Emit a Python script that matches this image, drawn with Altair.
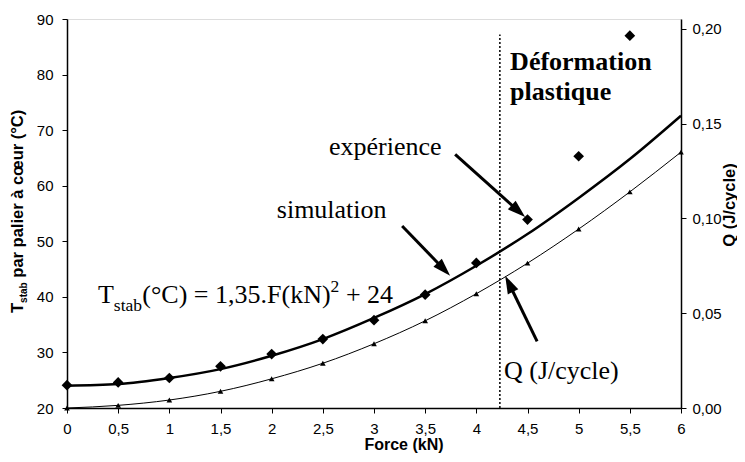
import math
import altair as alt
import pandas as pd

# ---------------- data ----------------
force = [0, 0.5, 1, 1.5, 2, 2.5, 3, 3.5, 4, 4.5, 5, 5.5, 6]
t_simulation = [24.0, 24.3, 25.4, 27.0, 29.4, 32.4, 36.2, 40.5, 45.6, 51.3, 57.8, 64.8, 72.6]
q_cycle = [0.000, 0.0014, 0.0042, 0.0088, 0.0154, 0.0236, 0.0339, 0.0460, 0.0603, 0.0764, 0.0944, 0.1140, 0.1350]
force_exp = [0, 0.5, 1, 1.5, 2, 2.5, 3, 3.5, 4, 4.5, 5, 5.5]
t_experience = [24.1, 24.6, 25.4, 27.5, 29.7, 32.4, 35.8, 40.4, 46.1, 53.9, 65.3, 87.0]

x_ticks = [0, 0.5, 1, 1.5, 2, 2.5, 3, 3.5, 4, 4.5, 5, 5.5, 6]
left_ticks = [20, 30, 40, 50, 60, 70, 80, 90]
right_ticks = [0.0, 0.05, 0.10, 0.15, 0.20]
x_domain = [0, 6]
left_domain = [20, 90]
right_domain = [0, 0.2052]

plastic_limit = 4.23          # vertical dotted line (kN)
plastic_top = 87.2

# annotation texts (data coordinates, left axis)
serif_texts = {
    "label": ["expérience", "simulation", "Q (J/cycle)", "T", "(°C) = 1,35.F(kN)", "+ 24", "stab", "2"],
    "x": [2.56, 2.05, 4.27, 0.303, 0.736, 2.726, 0.458, 2.576],
    "y": [65.5, 54.2, 25.2, 38.97, 38.97, 38.97, 37.37, 40.95],
    "fs": [26, 26, 26, 26, 26, 26, 17.5, 17.5],
}
bold_texts = {
    "label": ["Déformation", "plastique"],
    "x": [4.33, 4.33],
    "y": [80.9, 75.5],
}
# arrows: start (x0, y0) -> tip (x1, y1)
arrow_x0 = [3.793, 3.275, 4.594]
arrow_y0 = [65.65, 52.76, 32.0]
arrow_x1 = [4.477, 3.744, 4.282]
arrow_y1 = [54.37, 43.81, 43.81]

W, H = 614, 389
PX_X = W / (x_domain[1] - x_domain[0])
PX_Y = H / (left_domain[1] - left_domain[0])

rows = []
for x0, y0, x1, y1 in zip(arrow_x0, arrow_y0, arrow_x1, arrow_y1):
    dx = (x1 - x0) * PX_X
    dy = -(y1 - y0) * PX_Y
    L = math.hypot(dx, dy)
    t = 1 - 9 / L
    rows.append({
        "x0": x0, "y0": y0,
        "xs": x0 + (x1 - x0) * t, "ys": y0 + (y1 - y0) * t,
        "x1": x1, "y1": y1,
        "ang": math.degrees(math.atan2(dx, -dy)) % 360,
    })
arrows = pd.DataFrame(rows)

main = pd.DataFrame({"F": force, "T": t_simulation, "Q": q_cycle})
exp = pd.DataFrame({"F": force_exp, "T": t_experience})
one = pd.DataFrame({"a": [0]})

SANS = "Liberation Sans"
SERIF = "Liberation Serif"

x_axis = alt.Axis(values=x_ticks, title=None, grid=False,
                  labelExpr="replace(toString(datum.value), '.', ',')",
                  tickSize=5, labelPadding=8, labelFontSize=15, labelFont=SANS,
                  labelColor="black", domainColor="black", tickColor="black",
                  domainWidth=1.5, labelFlush=False, labelOverlap=False)
left_axis = alt.Axis(values=left_ticks, title=None, grid=False,
                     tickSize=5, labelPadding=9, labelFontSize=15, labelFont=SANS,
                     labelColor="black", domainColor="black", tickColor="black",
                     domainWidth=1.5, labelFlush=False, labelOverlap=False)
right_axis = alt.Axis(values=right_ticks, title=None, grid=False, orient="right",
                      labelExpr="replace(format(datum.value, '.2f'), '.', ',')",
                      tickSize=5, labelPadding=6, labelFontSize=15, labelFont=SANS,
                      labelColor="black", domainColor="black", tickColor="black",
                      domainWidth=1.5, labelFlush=False, labelOverlap=False)


def xs(field):
    return alt.X(field, type="quantitative",
                 scale=alt.Scale(domain=x_domain, nice=False, zero=False), axis=x_axis)


def yl(field):
    return alt.Y(field, type="quantitative",
                 scale=alt.Scale(domain=left_domain, nice=False, zero=False), axis=left_axis)


sim_line = alt.Chart(main).mark_line(color="black", strokeWidth=2.5, interpolate="monotone").encode(
    x=xs("F"), y=yl("T"))

exp_pts = alt.Chart(exp).mark_point(shape="diamond", size=115, filled=True, color="black", opacity=1).encode(
    x=xs("F"), y=yl("T"))

limit = alt.Chart(pd.DataFrame({"x": [plastic_limit], "y0": [left_domain[0]], "y1": [plastic_top]})).mark_rule(
    color="black", strokeWidth=1.5, strokeDash=[2, 2]).encode(x=xs("x"), y=yl("y0"), y2="y1")

shafts = alt.Chart(arrows).mark_rule(color="black", strokeWidth=3).encode(
    x=xs("x0"), y=yl("y0"), x2="xs", y2="ys")
heads = alt.Chart(arrows).mark_point(shape="M0,0L0.65,2L-0.65,2Z", size=324, filled=True,
                                     color="black", opacity=1, strokeWidth=0).encode(
    x=xs("x1"), y=yl("y1"), angle=alt.Angle("ang:Q", scale=None))

serif_layer = alt.Chart(pd.DataFrame(serif_texts)).mark_text(
    font=SERIF, align="left", baseline="alphabetic", color="black").encode(
    x=xs("x"), y=yl("y"), text="label:N", size=alt.Size("fs:Q", scale=None))
bold_layer = alt.Chart(pd.DataFrame(bold_texts)).mark_text(
    font=SERIF, fontWeight="bold", fontSize=26, align="left", baseline="alphabetic", color="black").encode(
    x=xs("x"), y=yl("y"), text="label:N")


# axis titles (outside the plot area)
def title_piece(text, x, y, size, angle=270, align="left"):
    return alt.Chart(one).mark_text(font=SANS, fontWeight="bold", fontSize=size, angle=angle,
                                    align=align, baseline="alphabetic", color="black").encode(
        x=alt.value(x), y=alt.value(y), text=alt.value(text))


t_title = title_piece("T", -44, 294, 16.5)
stab_title = title_piece("stab", -40, 283.9, 10)
rest_title = title_piece("par palier à cœur (°C)", -44, 258.7, 16.5)
q_title = title_piece("Q (J/cycle)", 668, 186, 16.5, align="center")
x_title = title_piece("Force (kN)", 337, 431, 16, angle=0, align="center")

left = alt.layer(sim_line, exp_pts, limit, shafts, heads, serif_layer, bold_layer,
                 t_title, stab_title, rest_title, q_title, x_title)

q_line = alt.Chart(main).mark_line(
    color="black", strokeWidth=1, interpolate="monotone",
    point=alt.OverlayMarkDef(shape="triangle-up", size=32, filled=True, color="black", opacity=1)).encode(
    x=xs("F"),
    y=alt.Y("Q:Q", scale=alt.Scale(domain=right_domain, nice=False, zero=False), axis=right_axis))

chart = alt.layer(left, q_line).resolve_scale(y="independent").properties(
    width=W, height=H,
    padding={"left": 59, "top": 11, "right": 56, "bottom": 46},
    autosize=alt.AutoSizeParams(type="none"),
).configure_view(stroke="black", strokeWidth=1).configure(background="white")

chart.save("out.html", embed_options={"renderer": "svg", "actions": False})
